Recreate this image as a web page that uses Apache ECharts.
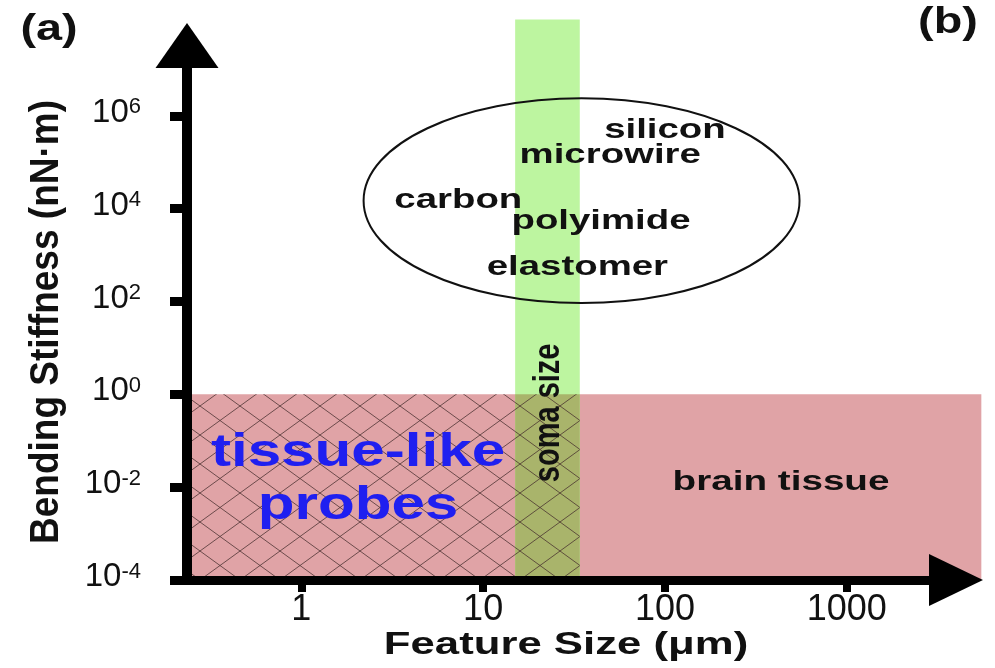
<!DOCTYPE html>
<html><head><meta charset="utf-8">
<script src="https://cdn.jsdelivr.net/npm/echarts@6/dist/echarts.min.js"></script>
<style>html,body{margin:0;padding:0;background:#fff}#c{width:995px;height:668px}</style>
</head><body><div id="c"></div>
<script>
// ---- data (units: feature size in µm, bending stiffness in nN·m) ----
const xTicks = [1, 10, 100, 1000];
const yTicks = [1e-4, 1e-2, 1, 1e2, 1e4, 1e6];
const xRange = [0.235, 3990];
const yRange = [1e-4, 3.29e7];
const brainTissueX = [0.235, 5500];
const brainTissueY = [1e-4, 1];
const somaSizeX = [15, 34];
const somaSizeY = [1e-4, 1.2e8];
const tissueLikeX = [0.235, 34];
const tissueLikeY = [1e-4, 1];
const materialsX = [2.2, 550];
const materialsY = [93, 2.4e6];
const materialNames = ['silicon', 'microwire', 'carbon', 'polyimide', 'elastomer'];
const materialX = [100, 50, 7.3, 44.5, 33];
const materialY = [5e5, 1.4e5, 1.5e4, 5.4e3, 550];
const regionLabels = ['tissue-like\nprobes', 'brain tissue'];
const regionLabelX = [2.05, 435];
const regionLabelY = [0.0143, 0.013];
const somaLabel = 'soma size';
const somaLabelX = 23;
const somaLabelY = 0.4;

const FONT = '"Liberation Sans", Arial, Helvetica, sans-serif';

// crosshatch pattern
const pat = document.createElement('canvas');
const PW = 40, PH = 29;
pat.width = PW; pat.height = PH;
(function () {
  const g = pat.getContext('2d');
  g.strokeStyle = 'rgba(70,45,45,0.75)';
  g.lineWidth = 1;
  for (let k = -2; k <= 2; k++) {
    g.beginPath(); g.moveTo(k * PW - PW, -PH); g.lineTo(k * PW + 2 * PW, 2 * PH); g.stroke();
    g.beginPath(); g.moveTo(k * PW - PW, 2 * PH); g.lineTo(k * PW + 2 * PW, -PH); g.stroke();
  }
})();

function rectSeries(xs, ys, fill, z) {
  return {
    type: 'custom', coordinateSystem: 'cartesian2d', z: z, silent: true,
    data: [[xs[0], ys[0], xs[1], ys[1]]],
    renderItem: function (params, api) {
      const p0 = api.coord([api.value(0), api.value(1)]);
      const p1 = api.coord([api.value(2), api.value(3)]);
      return { type: 'rect', shape: { x: p0[0], y: p1[1], width: p1[0] - p0[0], height: p0[1] - p1[1] }, style: { fill: fill } };
    }
  };
}

function sup(v) {
  const e = Math.round(Math.log10(v));
  return '{b|10}{s|' + (e < 0 ? '-' + (-e) : e) + '}';
}

const chart = echarts.init(document.getElementById('c'), null, { renderer: 'canvas' });
chart.setOption({
  animation: false,
  backgroundColor: '#fff',
  grid: { left: 187, right: 39, top: 45.5, bottom: 88 },
  xAxis: {
    type: 'log', logBase: 10, min: xRange[0], max: xRange[1], z: 10,
    splitLine: { show: false },
    axisLine: { show: true, symbol: ['none', 'triangle'], symbolSize: [52, 54],
      lineStyle: { color: '#000', width: 9, cap: 'square' } },
    axisTick: { show: true, length: 12, customValues: xTicks, lineStyle: { color: '#000', width: 8 } },
    axisLabel: { customValues: xTicks, margin: 12, fontSize: 36, color: '#111', fontFamily: FONT,
      formatter: function (v) { return String(Math.round(v)); } }
  },
  yAxis: {
    type: 'log', logBase: 10, min: yRange[0], max: yRange[1], z: 10,
    splitLine: { show: false },
    axisLine: { show: true, symbol: ['none', 'triangle'], symbolSize: [63, 45],
      lineStyle: { color: '#000', width: 10, cap: 'square' } },
    axisTick: { show: true, length: 17, customValues: yTicks, lineStyle: { color: '#000', width: 9 } },
    axisLabel: { customValues: yTicks, margin: 46, formatter: sup, padding: [0, 0, 6, 0],
      rich: {
        b: { fontSize: 33, lineHeight: 33, fontFamily: FONT, color: '#111', verticalAlign: 'bottom' },
        s: { fontSize: 22, lineHeight: 22, fontFamily: FONT, color: '#111', verticalAlign: 'top' }
      } }
  },
  series: [
    rectSeries(brainTissueX, brainTissueY, '#e0a3a6', 1),
    rectSeries(somaSizeX, somaSizeY, '#bdf5a0', 2),
    rectSeries(somaSizeX, brainTissueY, '#a9b46b', 3),
    rectSeries(tissueLikeX, tissueLikeY, { image: pat, repeat: 'repeat' }, 4),
    {
      type: 'custom', coordinateSystem: 'cartesian2d', z: 5, silent: true,
      data: [[materialsX[0], materialsY[0], materialsX[1], materialsY[1]]],
      renderItem: function (params, api) {
        const p0 = api.coord([api.value(0), api.value(1)]);
        const p1 = api.coord([api.value(2), api.value(3)]);
        return { type: 'ellipse',
          shape: { cx: (p0[0] + p1[0]) / 2, cy: (p0[1] + p1[1]) / 2, rx: Math.abs(p1[0] - p0[0]) / 2, ry: Math.abs(p1[1] - p0[1]) / 2 },
          style: { fill: 'none', stroke: '#111', lineWidth: 2 } };
      }
    },
    {
      type: 'custom', coordinateSystem: 'cartesian2d', z: 6, silent: true,
      data: materialX.map(function (x, i) { return [x, materialY[i]]; }),
      renderItem: function (params, api) {
        const p = api.coord([api.value(0), api.value(1)]);
        return { type: 'text', x: p[0], y: p[1], scaleX: 1.37,
          style: { text: materialNames[params.dataIndex], font: 'bold 28px ' + FONT, fill: '#111', align: 'center', verticalAlign: 'middle' } };
      }
    },
    {
      type: 'custom', coordinateSystem: 'cartesian2d', z: 6, silent: true,
      data: regionLabelX.map(function (x, i) { return [x, regionLabelY[i]]; }),
      renderItem: function (params, api) {
        const p = api.coord([api.value(0), api.value(1)]);
        const i = params.dataIndex;
        if (i === 0) {
          return { type: 'text', x: p[0], y: p[1], scaleX: 1.28,
            style: { text: regionLabels[i], font: 'bold 47px ' + FONT, lineHeight: 53, fill: '#1f1ff0', align: 'center', verticalAlign: 'middle' } };
        }
        return { type: 'text', x: p[0], y: p[1], scaleX: 1.38,
          style: { text: regionLabels[i], font: 'bold 28px ' + FONT, fill: '#111', align: 'center', verticalAlign: 'middle' } };
      }
    },
    {
      type: 'custom', coordinateSystem: 'cartesian2d', z: 6, silent: true,
      data: [[somaLabelX, somaLabelY]],
      renderItem: function (params, api) {
        const p = api.coord([api.value(0), api.value(1)]);
        return { type: 'text', x: p[0], y: p[1], rotation: Math.PI / 2, scaleY: 1.3,
          style: { text: somaLabel, font: 'bold 29px ' + FONT, fill: '#111', align: 'center', verticalAlign: 'middle' } };
      }
    }
  ],
  graphic: [
    { type: 'text', x: 49, y: 30, scaleX: 1.3, silent: true,
      style: { text: '(a)', font: 'bold 36px ' + FONT, fill: '#111', align: 'center', verticalAlign: 'middle' } },
    { type: 'text', x: 948, y: 23, scaleX: 1.3, silent: true,
      style: { text: '(b)', font: 'bold 36px ' + FONT, fill: '#111', align: 'center', verticalAlign: 'middle' } },
    { type: 'text', x: 47, y: 322, rotation: Math.PI / 2, scaleY: 1.12, silent: true,
      style: { text: 'Bending Stiffness (nN·m)', font: 'bold 37px ' + FONT, fill: '#111', align: 'center', verticalAlign: 'middle' } },
    { type: 'text', x: 566, y: 645, scaleX: 1.41, silent: true,
      style: { text: 'Feature Size (μm)', font: 'bold 31px ' + FONT, fill: '#111', align: 'center', verticalAlign: 'middle' } }
  ]
});
</script>
</body></html>
